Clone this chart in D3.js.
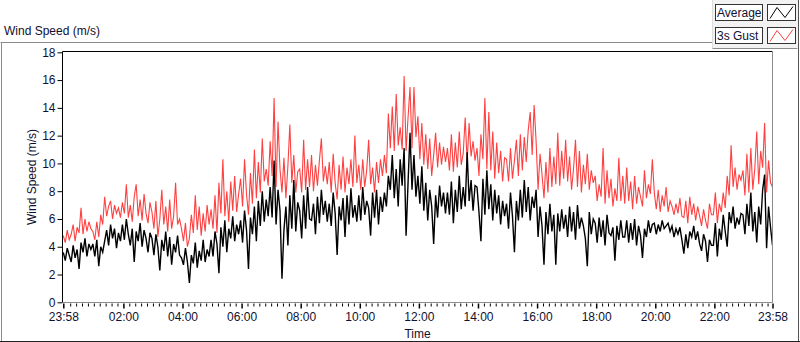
<!DOCTYPE html>
<html>
<head>
<meta charset="utf-8">
<script src="https://cdn.jsdelivr.net/npm/d3@7"></script>
<style>
  html, body { margin: 0; padding: 0; background: #fff; }
  svg { display: block; font-family: "Liberation Sans", Arial, sans-serif; }
</style>
</head>
<body>
<svg id="chart" width="800" height="342"></svg>
<script>
// Wind speed log, one sample every 4 minutes from 23:58 to 23:58 next day
const START = new Date(2000, 0, 1, 23, 58);

// Average (m/s), one row per hour (15 samples)
const average = [
  3.6, 3.0, 3.9, 3.4, 2.9, 4.1, 3.2, 3.8, 2.4, 4.3, 3.6, 4.6, 3.3, 4.2, 3.8,
  4.2, 3.3, 4.5, 2.6, 4.0, 3.6, 4.4, 5.2, 4.1, 5.6, 4.6, 5.3, 3.9, 5.0, 4.4,
  5.6, 4.5, 6.0, 4.9, 4.1, 5.3, 2.9, 5.1, 4.4, 5.7, 4.0, 5.2, 4.6, 3.6, 5.0,
  4.6, 3.4, 4.9, 4.0, 2.3, 4.5, 3.7, 5.1, 3.3, 4.7, 2.7, 4.2, 3.6, 4.8, 3.4,
  3.2, 2.7, 3.9, 2.9, 1.4, 3.4, 2.8, 4.3, 2.5, 3.7, 3.0, 4.5, 2.9, 3.8, 3.3,
  4.5, 3.3, 5.1, 4.2, 2.1, 5.4, 4.0, 5.9, 3.6, 5.3, 4.6, 6.2, 4.4, 5.6, 4.9,
  5.9, 4.3, 6.6, 5.2, 2.4, 6.1, 4.9, 6.9, 4.4, 7.3, 5.5, 8.0, 5.8, 7.4, 6.2,
  8.3, 6.1, 10.2, 5.6, 8.1, 6.6, 1.7, 5.2, 6.9, 4.1, 7.7, 5.3, 8.8, 5.1, 7.2,
  6.6, 4.6, 7.7, 5.3, 8.3, 6.0, 5.9, 7.1, 4.9, 7.6, 5.7, 8.1, 6.3, 7.3, 5.8,
  7.1, 5.5, 7.9, 6.4, 3.4, 6.9, 5.9, 7.5, 4.7, 7.7, 5.6, 8.2, 6.1, 7.0, 5.8,
  7.7, 5.9, 8.3, 6.3, 7.3, 6.8, 4.8, 7.9, 6.1, 8.1, 5.6, 7.6, 6.5, 7.9, 6.9,
  9.1, 8.1, 10.6, 7.5, 9.6, 6.9, 10.3, 8.4, 11.1, 4.8, 8.6, 12.2, 8.1, 10.6, 7.6,
  9.1, 7.1, 9.8, 6.6, 8.6, 5.9, 8.1, 6.9, 4.2, 7.7, 6.1, 8.4, 6.9, 7.9, 6.4,
  7.9, 6.3, 8.7, 5.7, 8.1, 6.5, 9.1, 6.7, 8.3, 6.9, 10.8, 7.3, 8.8, 6.6, 8.4,
  8.3, 6.5, 4.4, 8.9, 6.3, 9.5, 6.7, 8.5, 5.9, 8.1, 6.4, 7.7, 5.6, 7.3, 6.2,
  7.1, 5.3, 7.9, 6.2, 3.6, 7.3, 5.9, 8.1, 6.1, 8.8, 6.5, 8.3, 5.9, 7.6, 6.8,
  8.1, 4.7, 6.9, 5.5, 2.7, 6.5, 4.9, 7.1, 5.1, 6.3, 2.7, 6.4, 5.1, 6.7, 5.3,
  6.3, 4.7, 6.9, 5.1, 6.5, 4.5, 7.0, 5.3, 6.1, 5.5, 4.6, 2.6, 6.5, 4.9, 6.0,
  5.7, 4.3, 6.1, 4.7, 5.9, 4.1, 6.3, 5.0, 4.8, 5.4, 3.0, 5.5, 4.5, 5.9, 4.7,
  4.7, 5.9, 4.3, 5.7, 4.5, 6.0, 4.1, 5.5, 4.8, 3.2, 5.3, 4.7, 5.9, 5.0, 5.6,
  5.7, 4.9, 5.6, 5.1, 5.9, 5.3, 5.5, 5.7, 5.1, 5.5, 4.7, 5.3, 4.9, 5.4, 4.5,
  3.5, 4.9, 3.9, 5.1, 4.7, 5.5, 4.5, 5.1, 4.2, 3.7, 4.9, 4.4, 2.9, 4.5, 4.1,
  4.1, 5.7, 3.3, 5.3, 4.5, 6.3, 5.1, 4.0, 6.5, 5.7, 6.9, 5.3, 6.1, 5.6, 6.4,
  6.3, 4.9, 7.1, 5.5, 7.9, 5.1, 6.5, 4.3, 6.9, 5.6, 8.1, 9.2, 3.9, 6.9, 5.4, 4.1
];

// 3s Gust (m/s), one row per hour (15 samples)
const gust = [
  4.8, 4.3, 5.2, 4.5, 4.9, 5.6, 4.4, 5.4, 5.0, 6.8, 4.9, 6.0, 5.1, 5.8, 5.3,
  5.1, 4.5, 5.8, 4.7, 6.3, 5.6, 7.6, 6.2, 6.9, 7.3, 6.0, 7.0, 6.4, 6.8, 6.1,
  7.2, 6.4, 8.5, 6.1, 7.0, 5.8, 7.6, 8.5, 6.2, 7.4, 5.9, 7.8, 6.4, 5.7, 7.2,
  6.5, 5.3, 7.3, 4.7, 6.0, 8.1, 5.6, 6.9, 5.1, 7.4, 5.3, 6.2, 8.6, 5.6, 6.0,
  5.3, 4.4, 5.7, 4.0, 4.6, 6.3, 5.0, 7.7, 5.2, 6.9, 4.8, 6.4, 5.1, 7.0, 5.6,
  6.7, 5.3, 7.7, 5.0, 8.6, 6.4, 10.3, 6.2, 8.0, 5.8, 8.7, 6.6, 9.1, 6.5, 7.8,
  8.9, 6.9, 10.3, 7.8, 6.3, 9.3, 7.1, 11.0, 7.5, 10.1, 7.9, 11.8, 8.7, 9.6, 8.4,
  11.6, 9.1, 14.7, 8.3, 13.0, 9.6, 7.9, 10.4, 7.5, 9.8, 12.8, 8.6, 10.6, 7.9, 9.4,
  9.6, 7.9, 11.7, 8.1, 10.3, 8.3, 10.6, 8.0, 9.9, 8.4, 10.2, 11.8, 8.7, 9.8, 8.5,
  10.1, 7.9, 10.7, 8.6, 7.4, 9.9, 8.1, 10.5, 7.9, 9.7, 8.5, 10.3, 8.3, 12.0, 8.6,
  9.9, 8.1, 10.3, 8.3, 9.5, 11.7, 8.5, 9.7, 7.9, 10.1, 8.6, 10.3, 9.1, 10.6, 9.3,
  13.6, 11.1, 14.1, 10.9, 15.0, 11.3, 12.6, 11.0, 16.3, 10.9, 13.3, 15.5, 11.1, 15.5, 11.9,
  13.4, 10.3, 12.9, 9.9, 12.1, 9.6, 11.8, 9.1, 10.6, 12.2, 9.7, 11.5, 9.9, 11.2, 10.1,
  11.1, 9.5, 12.1, 9.4, 11.5, 9.7, 12.3, 9.9, 10.7, 13.3, 10.1, 12.9, 10.5, 11.6, 10.2,
  11.1, 9.1, 12.1, 10.3, 14.7, 9.6, 13.7, 9.5, 12.3, 8.9, 11.5, 9.3, 10.9, 8.7, 10.4,
  10.3, 8.7, 11.1, 8.9, 10.2, 11.7, 9.1, 12.1, 9.5, 11.9, 10.1, 12.4, 13.7, 10.6, 14.2,
  11.6, 8.1, 10.7, 9.2, 7.5, 10.1, 7.9, 11.1, 8.3, 10.5, 8.5, 12.2, 8.4, 10.9, 8.9,
  11.7, 8.7, 10.5, 8.1, 9.6, 11.7, 8.3, 10.9, 7.9, 9.9, 8.5, 10.7, 8.1, 9.5, 8.6,
  9.1, 7.3, 8.5, 7.6, 11.1, 7.1, 9.5, 7.5, 8.9, 6.9, 8.2, 7.3, 10.4, 7.3, 9.1,
  7.1, 9.7, 7.3, 8.7, 6.7, 9.1, 7.1, 8.3, 7.6, 6.9, 9.5, 7.5, 8.5, 7.8, 10.3,
  7.9, 6.7, 8.1, 6.5, 7.7, 6.9, 8.3, 6.5, 7.3, 6.9, 6.3, 7.1, 6.4, 7.5, 6.2,
  6.1, 7.3, 5.7, 7.6, 6.3, 7.1, 5.9, 6.9, 6.2, 5.5, 6.7, 5.9, 5.3, 7.1, 6.3,
  6.3, 7.9, 5.7, 7.1, 6.5, 7.9, 6.8, 9.1, 7.7, 11.3, 8.3, 9.7, 8.1, 9.2, 8.8,
  9.5, 7.7, 10.7, 7.9, 11.1, 8.1, 9.6, 12.3, 8.5, 10.9, 9.7, 12.9, 7.9, 10.2, 8.6, 8.3
];

const yTicks = [0, 2, 4, 6, 8, 10, 12, 14, 16, 18];
const xMajorHours = [2, 4, 6, 8, 10, 12, 14, 16, 18, 20, 22];
const seriesNames = ['Average', '3s Gust'];

(function () {
  'use strict';

  const COLORS = {
    average: '#000000',
    gust:    '#ff4040',
    text:    '#101030',
    frame:   '#8c8c8c',
  };

  const svg = d3.select('#chart');
  const plot = { left: 62.5, right: 772.5, top: 51.5, bottom: 302.5 };

  const END = d3.timeDay.offset(START, 1);
  const x = d3.scaleTime().domain([START, END]).range([plot.left + 0.8, plot.right]);
  const y = d3.scaleLinear().domain([0, 18]).range([plot.bottom - 0.2, plot.top + 0.8]);

  // samples are evenly spaced over the day
  const stepMs = (END - START) / (average.length - 1);
  const timeAt = i => new Date(+START + i * stepMs);

  // Outer frame
  svg.append('path')
    .attr('d', 'M0.5,42.5 H712.5 V48.5 H797.5')
    .attr('fill', 'none').attr('stroke', COLORS.frame);
  svg.append('line')
    .attr('x1', 1.5).attr('x2', 1.5).attr('y1', 42.5).attr('y2', 341)
    .attr('stroke', COLORS.frame);
  svg.append('line')
    .attr('x1', 798.5).attr('x2', 798.5).attr('y1', 0).attr('y2', 342)
    .attr('stroke', '#555');
  svg.append('line')
    .attr('x1', 0).attr('x2', 800).attr('y1', 341.5).attr('y2', 341.5)
    .attr('stroke', '#222');

  // Legend panel
  svg.append('rect')
    .attr('x', 712.5).attr('y', 0).attr('width', 85.5).attr('height', 48)
    .attr('fill', '#f2f2f2');
  svg.append('line')
    .attr('x1', 712.5).attr('x2', 712.5).attr('y1', 0).attr('y2', 48.5)
    .attr('stroke', '#dcdcdc');

  // Chart title
  svg.append('text')
    .attr('x', 4).attr('y', 35)
    .attr('font-size', 12).attr('fill', COLORS.text)
    .text('Wind Speed (m/s)');

  // Plot background
  svg.append('rect')
    .attr('x', plot.left).attr('y', plot.top)
    .attr('width', plot.right - plot.left).attr('height', plot.bottom - plot.top)
    .attr('fill', '#fff');

  // Series
  const line = d3.line()
    .x((d, i) => x(timeAt(i)))
    .y(d => y(d));

  svg.append('clipPath').attr('id', 'plot-clip')
    .append('rect')
    .attr('x', plot.left).attr('y', plot.top)
    .attr('width', plot.right - plot.left).attr('height', plot.bottom - plot.top);

  const g = svg.append('g').attr('clip-path', 'url(#plot-clip)');
  g.append('path')
    .datum(gust)
    .attr('fill', 'none')
    .attr('stroke', COLORS.gust)
    .attr('stroke-width', 1.1)
    .attr('d', line);
  g.append('path')
    .datum(average)
    .attr('fill', 'none')
    .attr('stroke', COLORS.average)
    .attr('stroke-width', 1.4)
    .attr('d', line);

  // Plot border: dark top/left, gray right/bottom
  svg.append('path')
    .attr('d', `M${plot.left},${plot.bottom} V${plot.top} H${plot.right}`)
    .attr('fill', 'none').attr('stroke', '#000');
  svg.append('path')
    .attr('d', `M${plot.left},${plot.bottom} H${plot.right} V${plot.top}`)
    .attr('fill', 'none').attr('stroke', COLORS.frame);

  // Y axis
  const yAxis = d3.axisLeft(y)
    .tickValues(yTicks)
    .tickSize(5)
    .tickPadding(2);
  const yg = svg.append('g')
    .attr('transform', `translate(${plot.left},0)`)
    .call(yAxis);
  yg.select('.domain').remove();
  yg.selectAll('.tick line').attr('stroke', '#000');
  yg.selectAll('.tick text')
    .attr('font-size', 12).attr('fill', COLORS.text)
    .attr('font-family', '"Liberation Sans", Arial, sans-serif');

  svg.append('text')
    .attr('transform', `translate(36,${(plot.top + plot.bottom) / 2}) rotate(-90)`)
    .attr('text-anchor', 'middle')
    .attr('font-size', 12).attr('fill', COLORS.text)
    .text('Wind Speed (m/s)');

  // X axis: majors at ends and every 2 h, minors every 12 min
  const majors = [START].concat(xMajorHours.map(h => new Date(2000, 0, 2, h, 0)), [END]);
  const minors = d3.timeMinute.every(12).range(START, END)
    .filter(t => t - START > 4 * 60000 && END - t > 4 * 60000)
    .filter(t => !(t.getMinutes() === 0 && t.getHours() % 2 === 0));

  const xMinor = d3.axisBottom(x).tickValues(minors).tickSize(3).tickFormat('');
  const xm = svg.append('g')
    .attr('transform', `translate(0,${plot.bottom + 1})`)
    .call(xMinor);
  xm.select('.domain').remove();
  xm.selectAll('.tick line').attr('stroke', '#000');

  const xMajor = d3.axisBottom(x)
    .tickValues(majors)
    .tickSize(5)
    .tickPadding(4)
    .tickFormat(d3.timeFormat('%H:%M'));
  const xg = svg.append('g')
    .attr('transform', `translate(0,${plot.bottom + 1})`)
    .call(xMajor);
  xg.select('.domain').remove();
  xg.selectAll('.tick line').attr('stroke', '#000').attr('stroke-width', 1.5);
  xg.selectAll('.tick text')
    .attr('font-size', 12).attr('fill', COLORS.text)
    .attr('font-family', '"Liberation Sans", Arial, sans-serif');

  svg.append('text')
    .attr('x', (plot.left + plot.right) / 2).attr('y', 338)
    .attr('text-anchor', 'middle')
    .attr('font-size', 12).attr('fill', COLORS.text)
    .text('Time');

  // Legend
  const legend = svg.append('g');
  seriesNames.forEach((name, i) => {
    const top = 4.5 + i * 23;
    legend.append('rect')
      .attr('x', 715.5).attr('y', top).attr('width', 47).attr('height', 16)
      .attr('fill', '#fff').attr('stroke', '#333');
    legend.append('text')
      .attr('x', 717).attr('y', top + 12.5)
      .attr('font-size', 12).attr('fill', COLORS.text)
      .text(name);
    legend.append('rect')
      .attr('x', 767.5).attr('y', top).attr('width', 28).attr('height', 16)
      .attr('fill', '#fff').attr('stroke', '#333');
    legend.append('path')
      .attr('d', `M770,${top + 14} L777,${top + 3} L785,${top + 13} L793,${top + 2}`)
      .attr('fill', 'none')
      .attr('stroke', i === 0 ? COLORS.average : COLORS.gust);
  });
})();
</script>
</body>
</html>
